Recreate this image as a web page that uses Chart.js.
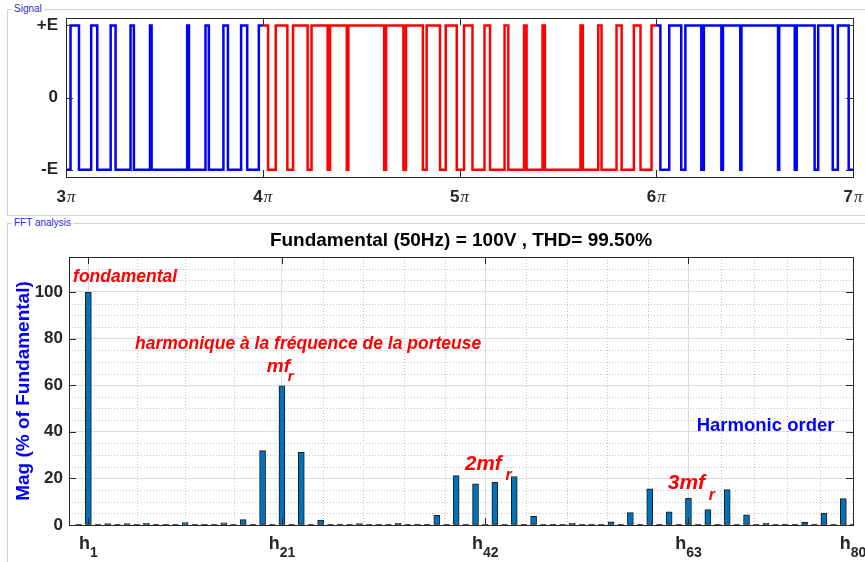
<!DOCTYPE html>
<html>
<head>
<meta charset="utf-8">
<script src="https://cdn.jsdelivr.net/npm/chart.js@4.4.0/dist/chart.umd.min.js"></script>
<style>
  html, body { margin: 0; padding: 0; background: #fff; }
  body { width: 865px; height: 562px; position: relative; overflow: hidden; font-family: 'Liberation Sans', Arial, sans-serif; }
  fieldset { position: absolute; margin: 0; padding: 0; border: 1px solid #d2d2d2; box-sizing: border-box; }
  legend { font-size: 10px; line-height: 12px; color: #2a2ad0; padding: 0 2px; margin-left: 4px; }
  canvas { position: absolute; left: 0; }
</style>
</head>
<body>
<fieldset style="left:7px; top:3px; width:870px; height:213px"><legend>Signal</legend></fieldset>
<fieldset style="left:7px; top:217px; width:870px; height:360px"><legend>FFT analysis</legend></fieldset>
<canvas id="signalChart" width="865" height="215" style="top:0"></canvas>
<canvas id="fftChart" width="865" height="347" style="top:215px"></canvas>
<script>
// ---------- top panel: PWM signal ----------
const sigXTicks = [3, 4, 5, 6, 7];
const sigXTickLabels = ['3π', '4π', '5π', '6π', '7π'];
const sigYTicks = [-1, 0, 1];
const sigYTickLabels = ['-E', '0', '+E'];

// switching instants, in units of π
const sigEdgesBlueA = [3.023, 3.066, 3.128, 3.159, 3.227, 3.252, 3.328, 3.345, 3.427, 3.435,
                       3.616, 3.625, 3.709, 3.726, 3.800, 3.823, 3.890, 3.921, 3.980];   // 3π..4π, starts at -E
const sigEdgesRed = [4.027, 4.066, 4.125, 4.154, 4.228, 4.248, 4.330, 4.342, 4.427, 4.435,
                     4.617, 4.627, 4.715, 4.728, 4.814, 4.833, 4.901, 4.930, 4.986,
                     5.023, 5.066, 5.127, 5.155, 5.229, 5.248, 5.328, 5.341, 5.422, 5.434,
                     5.615, 5.627, 5.705, 5.722, 5.798, 5.824, 5.886, 5.920, 5.976];     // 4π..6π, starts at +E
const sigEdgesBlueB = [6.021, 6.066, 6.127, 6.148, 6.229, 6.242, 6.331, 6.339, 6.427, 6.433,
                       6.619, 6.625, 6.704, 6.714, 6.805, 6.823, 6.897, 6.923, 6.978];   // 6π..7π, starts at +E

// ---------- bottom panel: FFT ----------
const fftOrders = [1, 3, 5, 7, 9, 11, 13, 15, 17, 19, 21, 23, 25, 27, 29, 31, 33, 35, 37, 39,
                   41, 43, 45, 47, 49, 51, 53, 55, 57, 59, 61, 63, 65, 67, 69, 71, 73, 75, 77, 79];
const fftMags = [100, 0.6, 0.6, 0.7, 0.4, 1.0, 0.3, 0.9, 2.3, 31.9, 59.7, 31.2, 2.1, 0.4, 0.6, 0.4, 0.7, 0.4, 4.1, 21.2,
                 17.7, 18.4, 20.8, 3.7, 0.4, 0.7, 0.4, 1.4, 5.3, 15.5, 5.6, 11.4, 6.6, 15.2, 4.4, 0.7, 0.4, 1.3, 5.1, 11.3];
const fftXTicks = [1, 21, 42, 63, 80];
const fftXTickLabels = ['h1', 'h21', 'h42', 'h63', 'h80'];
const fftYTicks = [0, 20, 40, 60, 80, 100];
const fftMinorX = [6, 11, 16, 25.2, 29.4, 33.6, 37.8, 46.2, 50.4, 54.6, 58.8, 66.4, 69.8, 73.2, 76.6];
const fftMinorY = [5, 10, 15, 25, 30, 35, 45, 50, 55, 65, 70, 75, 85, 90, 95, 105, 110];

const FONT = "'Liberation Sans', Arial, sans-serif";
const AXIS_COLOR = '#262626';
Chart.defaults.font.family = FONT;
Chart.defaults.color = AXIS_COLOR;

// level holds until the next edge
function stepPoints(from, to, level, edges) {
  const pts = [{x: from, y: level}];
  edges.forEach(t => { level = -level; pts.push({x: t, y: level}); });
  pts.push({x: to, y: level});
  return pts;
}

const px = v => Math.round(v) + 0.5;

// box, inward ticks and optional dotted minor grid (MATLAB style)
function makeFrame(minorX, minorY, tickLen) {
  return {
    id: 'frame',
    beforeDatasetsDraw(chart) {
      if (!minorX) return;
      const {ctx, chartArea: a, scales: {x, y}} = chart;
      ctx.save();
      ctx.strokeStyle = '#c4c4c4';
      ctx.lineWidth = 1;
      ctx.setLineDash([1, 2]);
      ctx.beginPath();
      minorX.forEach(v => { const p = px(x.getPixelForValue(v)); ctx.moveTo(p, a.top); ctx.lineTo(p, a.bottom); });
      minorY.forEach(v => { const p = px(y.getPixelForValue(v)); ctx.moveTo(a.left, p); ctx.lineTo(a.right, p); });
      ctx.stroke();
      ctx.restore();
    },
    afterDatasetsDraw(chart) {
      const {ctx, chartArea: a, scales: {x, y}} = chart;
      ctx.save();
      ctx.strokeStyle = AXIS_COLOR;
      ctx.lineWidth = 1;
      ctx.strokeRect(px(a.left), px(a.top), Math.round(a.right - a.left), Math.round(a.bottom - a.top));
      ctx.beginPath();
      x.ticks.forEach(t => {
        const p = px(x.getPixelForValue(t.value));
        ctx.moveTo(p, a.top); ctx.lineTo(p, a.top + tickLen);
        ctx.moveTo(p, a.bottom); ctx.lineTo(p, a.bottom - tickLen);
      });
      y.ticks.forEach(t => {
        const p = px(y.getPixelForValue(t.value));
        ctx.moveTo(a.left, p); ctx.lineTo(a.left + tickLen, p);
        ctx.moveTo(a.right, p); ctx.lineTo(a.right - tickLen, p);
      });
      ctx.stroke();
      ctx.restore();
    }
  };
}

// "3π" style labels under the signal axis
const sigLabels = {
  id: 'sigLabels',
  afterDraw(chart) {
    const {ctx, chartArea: a, scales: {x}} = chart;
    ctx.save();
    ctx.fillStyle = AXIS_COLOR;
    ctx.textBaseline = 'alphabetic';
    ctx.textAlign = 'left';
    sigXTicks.forEach((v, i) => {
      const lab = sigXTickLabels[i];
      const num = lab.slice(0, -1), sym = lab.slice(-1);
      ctx.font = 'bold 17px ' + FONT;
      const w1 = ctx.measureText(num).width;
      ctx.font = "italic 17px 'Liberation Serif', serif";
      const w2 = ctx.measureText(sym).width;
      const left = x.getPixelForValue(v) - (w1 + 1 + w2) / 2;
      ctx.font = 'bold 17px ' + FONT;
      ctx.fillText(num, left, a.bottom + 25);
      ctx.font = "italic 17px 'Liberation Serif', serif";
      ctx.fillText(sym, left + w1 + 1, a.bottom + 25);
    });
    ctx.restore();
  }
};

new Chart(document.getElementById('signalChart'), {
  type: 'line',
  data: {
    datasets: [
      {data: stepPoints(3, 4, -1, sigEdgesBlueA), borderColor: '#0000ff'},
      {data: stepPoints(4, 6, 1, sigEdgesRed), borderColor: '#ff0000'},
      {data: stepPoints(6, 7, 1, sigEdgesBlueB), borderColor: '#0000ff'}
    ]
  },
  options: {
    responsive: false,
    animation: false,
    layout: {padding: {top: 18, right: 12, left: 0, bottom: 0}},
    elements: {
      line: {stepped: 'before', borderWidth: 2.5, fill: false},
      point: {radius: 0}
    },
    plugins: {legend: {display: false}, tooltip: {enabled: false}},
    scales: {
      x: {
        type: 'linear', min: 3, max: 7,
        afterBuildTicks: s => { s.ticks = sigXTicks.map(v => ({value: v})); },
        afterFit: s => { s.height = 38; },
        ticks: {display: false},
        grid: {display: false, drawTicks: false},
        border: {display: false}
      },
      y: {
        type: 'linear', min: -1.1, max: 1.1,
        afterBuildTicks: s => { s.ticks = sigYTicks.map(v => ({value: v})); },
        afterFit: s => { s.width = 66; },
        ticks: {
          callback: v => sigYTickLabels[sigYTicks.indexOf(v)],
          font: {size: 17, weight: 'bold'},
          color: AXIS_COLOR,
          padding: 8
        },
        grid: {display: false, drawTicks: false},
        border: {display: false}
      }
    }
  },
  plugins: [makeFrame(null, null, 7), sigLabels]
});

// annotations in data coordinates (harmonic order, % of fundamental), left/baseline anchored
const RED = '#ff0000';
const fftNotes = [
  {text: 'fondamental', x: -0.58, y: 104.1, font: 'italic bold 17.5px', color: RED},
  {text: 'harmonique à la fréquence de la porteuse', x: 5.82, y: 75.7, font: 'italic bold 17.5px', color: RED},
  {text: 'mf', x: 19.43, y: 65.6, font: 'italic bold 19px', color: RED},
  {text: 'r', x: 21.6, y: 62.0, font: 'italic bold 15px', color: RED},
  {text: '2mf', x: 39.92, y: 23.5, font: 'italic bold 20.5px', color: RED},
  {text: 'r', x: 44.1, y: 19.3, font: 'italic bold 16px', color: RED},
  {text: '3mf', x: 60.86, y: 15.3, font: 'italic bold 21px', color: RED},
  {text: 'r', x: 65.1, y: 10.7, font: 'italic bold 16px', color: RED},
  {text: 'Harmonic order', x: 63.85, y: 40.5, font: 'bold 18.5px', color: '#0000ff'}
];

const fftDecor = {
  id: 'fftDecor',
  afterDatasetsDraw(chart) {
    const {ctx, chartArea: a, scales: {x, y}} = chart;
    ctx.save();
    // zero baseline, broken at every harmonic like MATLAB's zero-height bars
    const y0 = Math.round(y.getPixelForValue(0)) - 0.5;
    ctx.strokeStyle = '#555';
    ctx.lineWidth = 1;
    ctx.beginPath();
    for (let h = 0; h <= 80; h++) {
      const c = x.getPixelForValue(h);
      ctx.moveTo(Math.max(a.left, c - 3), y0);
      ctx.lineTo(Math.min(a.right, c + 3), y0);
    }
    ctx.stroke();
    ctx.restore();
  },
  afterDraw(chart) {
    const {ctx, chartArea: a, scales: {x, y}} = chart;
    ctx.save();
    ctx.textBaseline = 'alphabetic';
    ctx.textAlign = 'left';
    fftNotes.forEach(n => {
      ctx.font = n.font + ' ' + FONT;
      ctx.fillStyle = n.color;
      ctx.fillText(n.text, x.getPixelForValue(n.x), y.getPixelForValue(n.y));
    });
    // h_n tick labels
    ctx.fillStyle = AXIS_COLOR;
    fftXTicks.forEach((v, i) => {
      const lab = fftXTickLabels[i];
      const main = lab[0], sub = lab.slice(1);
      ctx.font = 'bold 18px ' + FONT;
      const w1 = ctx.measureText(main).width;
      ctx.font = 'bold 14px ' + FONT;
      const w2 = ctx.measureText(sub).width;
      const left = x.getPixelForValue(v) - (w1 + w2) / 2;
      ctx.font = 'bold 18px ' + FONT;
      ctx.fillText(main, left, a.bottom + 23.5);
      ctx.font = 'bold 14px ' + FONT;
      ctx.fillText(sub, left + w1, a.bottom + 31.5);
    });
    ctx.restore();
  }
};

new Chart(document.getElementById('fftChart'), {
  type: 'bar',
  data: {
    datasets: [{
      data: fftOrders.map((h, i) => ({x: h, y: fftMags[i]})),
      backgroundColor: '#0072bd',
      borderColor: '#1a1a1a',
      borderWidth: 1,
      borderSkipped: false,
      barThickness: 6
    }]
  },
  options: {
    responsive: false,
    animation: false,
    layout: {padding: {top: 0, right: 12, left: 0, bottom: 0}},
    plugins: {
      legend: {display: false},
      tooltip: {enabled: false},
      title: {
        display: true,
        fullSize: false,
        text: 'Fundamental (50Hz) = 100V , THD= 99.50%',
        color: '#000',
        font: {size: 19, weight: 'bold'},
        padding: {top: 14.6, bottom: 4.6}
      }
    },
    scales: {
      x: {
        type: 'linear', min: -1, max: 80, offset: false,
        afterBuildTicks: s => { s.ticks = fftXTicks.map(v => ({value: v})); },
        afterFit: s => { s.height = 37; },
        ticks: {display: false},
        grid: {color: '#dedede', drawTicks: false, offset: false},
        border: {display: false}
      },
      y: {
        type: 'linear', min: 0, max: 115,
        afterBuildTicks: s => { s.ticks = fftYTicks.map(v => ({value: v})); },
        afterFit: s => { s.width = 69; },
        ticks: {font: {size: 17, weight: 'bold'}, color: AXIS_COLOR, padding: 6},
        grid: {color: '#dedede', drawTicks: false},
        border: {display: false},
        title: {
          display: true,
          text: 'Mag (% of Fundamental)',
          color: '#0000ff',
          font: {size: 19, weight: 'bold'},
          padding: {top: 12.6, bottom: 0}
        }
      }
    }
  },
  plugins: [makeFrame(fftMinorX, fftMinorY, 7), fftDecor]
});
</script>
</body>
</html>
